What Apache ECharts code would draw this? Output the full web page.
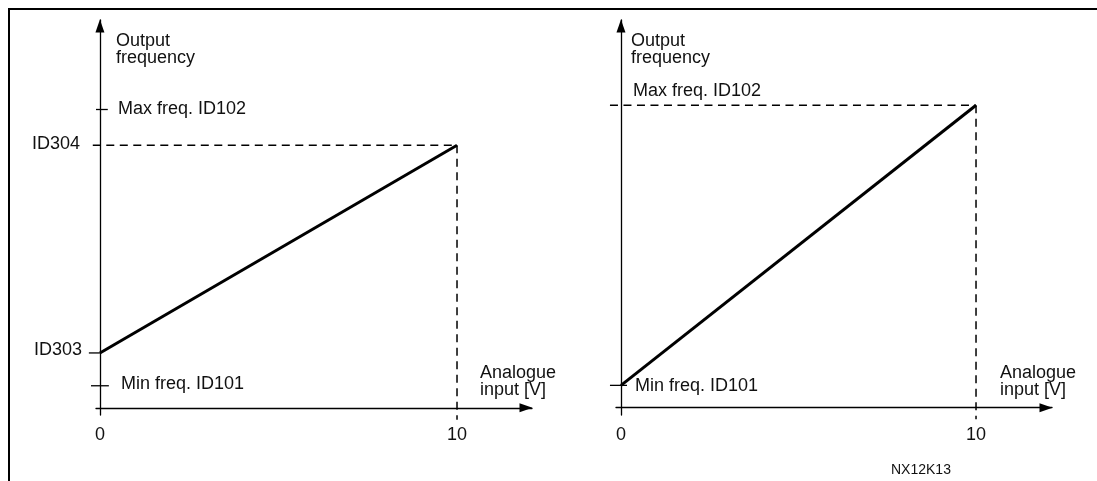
<!DOCTYPE html>
<html><head><meta charset="utf-8">
<script src="https://cdn.jsdelivr.net/npm/echarts@6/dist/echarts.min.js"></script>
<style>html,body{margin:0;padding:0;background:#fff}#c{width:1097px;height:481px}</style>
</head><body><div id="c"></div>
<script>
// ---- data ----
const xTickValues = [0, 10];
const xTickLabels = ['0', '10'];
// left panel (scaled reference ID303..ID304)
const leftX = [0, 10];
const leftY = [9.2, 44];
// right panel (Min freq..Max freq)
const rightX = [0, 10];
const rightY = [3.7, 50];
// frequency levels
const minFreq = 3.7;
const maxFreq = 50;
const id303 = 9.2;
const id304 = 44;
// level labels
const levelNames = ['Min freq. ID101', 'Max freq. ID102', 'ID303', 'ID304'];
// axis extents
const xMinL = -0.11, xMaxL = 12.1, yMinL = -1.2, yMaxL = 65;
const xMinR = -0.14, xMaxR = 12.14, yMinR = -1.2, yMaxR = 64.1;

const FONT = 'Liberation Sans, Arial, sans-serif';
const INK = '#111';
const tStyle = {fontFamily: FONT, fontSize: 18, color: INK};

function xAxisCfg(idx, mn, mx) {
  return {
    type: 'value', gridIndex: idx, min: mn, max: mx,
    axisLine: {onZero: true, lineStyle: {color: '#000', width: 1.3}, symbol: ['none', 'triangle'], symbolSize: [9, 13], symbolOffset: [0, -6]},
    axisTick: {show: false},
    splitLine: {show: false},
    axisLabel: {customValues: xTickValues, formatter: v => xTickLabels[xTickValues.indexOf(v)] ?? '', margin: 11, ...tStyle},
    name: 'Analogue\ninput [V]', nameLocation: 'end', nameGap: -52,
    nameTextStyle: {...tStyle, align: 'left', verticalAlign: 'bottom', lineHeight: 17, padding: [0, 0, 9, 0]}
  };
}
function yAxisCfg(idx, mn, mx, padL) {
  return {
    type: 'value', gridIndex: idx, min: mn, max: mx,
    axisLine: {onZero: true, lineStyle: {color: '#000', width: 1.3}, symbol: ['none', 'triangle'], symbolSize: [9, 13], symbolOffset: [0, -6]},
    axisTick: {show: false}, splitLine: {show: false}, axisLabel: {show: false},
    name: 'Output\nfrequency', nameLocation: 'end', nameGap: -13,
    nameTextStyle: {...tStyle, align: 'left', verticalAlign: 'top', lineHeight: 17, padding: [0, 0, 0, padL]}
  };
}

const DASH = [8, 5.5];
function seg(api, x1, y1, x2, y2, dash) {
  const a = api.coord([x1, y1]), b = api.coord([x2, y2]);
  return {type: 'line', shape: {x1: a[0], y1: a[1], x2: b[0], y2: b[1]},
          style: {stroke: '#000', lineWidth: dash ? 1.5 : 1.3, lineDash: dash ? DASH : null}};
}
function txt(api, x, y, text, align, dx, dy) {
  const p = api.coord([x, y]);
  return {type: 'text', x: p[0] + dx, y: p[1] + dy,
          style: {text: text, align: align, verticalAlign: 'middle', fontSize: 18, fontFamily: FONT, fill: INK}};
}
function renderLeft(params, api) {
  return {type: 'group', children: [
    seg(api, -0.11, maxFreq, 0.22, maxFreq, false),
    txt(api, 0, maxFreq, levelNames[1], 'left', 18, 0),
    seg(api, -0.2, id304, 10, id304, true),
    txt(api, 0, id304, levelNames[3], 'right', -20, -1),
    seg(api, -0.31, id303, 0, id303, false),
    txt(api, 0, id303, levelNames[2], 'right', -18, -3),
    seg(api, -0.25, minFreq, 0.25, minFreq, false),
    txt(api, 0, minFreq, levelNames[0], 'left', 21, -2),
    seg(api, 10, id304, 10, -2.0, true)
  ]};
}
function renderRight(params, api) {
  return {type: 'group', children: [
    seg(api, -0.31, maxFreq, 10, maxFreq, true),
    txt(api, 0, maxFreq, levelNames[1], 'left', 12, -14),
    seg(api, -0.31, minFreq, 0.17, minFreq, false),
    txt(api, 0, minFreq, levelNames[0], 'left', 14, 1),
    seg(api, 10, maxFreq, 10, -1.9, true)
  ]};
}

const chart = echarts.init(document.getElementById('c'), null, {renderer: 'canvas'});
chart.setOption({
  animation: false,
  backgroundColor: '#fff',
  title: {text: 'NX12K13', left: 886, top: 458, textStyle: {fontFamily: FONT, fontSize: 14, fontWeight: 'normal', color: INK}},
  graphic: [{type: 'rect', shape: {x: 9, y: 9, width: 1300, height: 700}, style: {fill: 'none', stroke: '#000', lineWidth: 2}, silent: true}],
  grid: [
    {left: 96, top: 20, width: 436, height: 395},
    {left: 616, top: 20, width: 436, height: 395}
  ],
  xAxis: [xAxisCfg(0, xMinL, xMaxL), xAxisCfg(1, xMinR, xMaxR)],
  yAxis: [yAxisCfg(0, yMinL, yMaxL, 16), yAxisCfg(1, yMinR, yMaxR, 10)],
  series: [
    {type: 'custom', xAxisIndex: 0, yAxisIndex: 0, silent: true, clip: false, data: [[0, 0]], renderItem: renderLeft},
    {type: 'custom', xAxisIndex: 1, yAxisIndex: 1, silent: true, clip: false, data: [[0, 0]], renderItem: renderRight},
    {
      type: 'line', xAxisIndex: 0, yAxisIndex: 0, clip: false, silent: true,
      data: leftX.map((x, i) => [x, leftY[i]]), showSymbol: false, symbol: 'none',
      lineStyle: {color: '#000', width: 3}
    },
    {
      type: 'line', xAxisIndex: 1, yAxisIndex: 1, clip: false, silent: true,
      data: rightX.map((x, i) => [x, rightY[i]]), showSymbol: false, symbol: 'none',
      lineStyle: {color: '#000', width: 3}
    }
  ]
});
</script></body></html>
